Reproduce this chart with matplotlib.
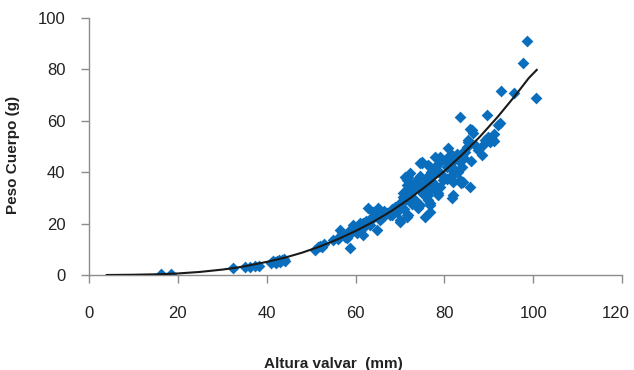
import matplotlib
matplotlib.use("Agg")
import matplotlib.pyplot as plt
import matplotlib.transforms as mtransforms

plt.rcParams['font.family'] = ['Liberation Sans', 'DejaVu Sans']

# Scatter data: Altura valvar (mm) vs Peso Cuerpo (g)
altura = [16.2, 18.5, 32.5, 35.2, 36.3, 37.3, 38.2,
          41.0, 41.5, 42.0, 42.4, 43.0, 43.5, 44.2, 42.8, 41.8, 44.0,
          50.8, 51.5, 52.0, 52.4, 52.8,
          55.0, 56.0, 56.5, 57.0, 57.7, 56.5, 58.0, 58.8, 58.5, 59.0, 59.5, 60.0, 60.3, 60.6,
          61.0, 61.2, 61.7, 61.7, 62.0, 62.3, 62.8, 63.2, 63.5, 64.0, 64.3, 64.8, 65.1, 65.5,
          65.8, 66.2, 66.5, 67.0, 67.8, 68.2, 68.9, 69.3, 70.0, 70.0, 70.5, 70.7, 71.0, 71.2,
          71.6, 71.8, 71.8, 72.0, 72.3, 72.3, 72.8, 73.0, 73.4, 73.5, 73.9, 74.1, 74.5, 74.5,
          75.0, 75.0, 75.2, 75.5, 75.7, 76.0, 76.1, 76.1, 76.4, 76.8, 76.8, 77.0, 77.3, 77.3,
          77.9, 78.0, 78.4, 78.6, 79.1, 79.1, 79.5, 79.7, 80.2, 80.5, 80.9, 81.3, 81.3, 81.8,
          82.0, 82.4, 82.8, 83.1, 83.6, 83.6, 83.8, 84.0, 84.5, 84.7, 85.1, 85.4, 85.8, 85.8,
          86.0, 86.5, 86.8, 87.5, 88.5, 88.7, 89.6, 89.9, 90.3, 90.8, 91.2, 92.6, 92.8, 95.7,
          97.8, 98.6, 100.7, 81.8, 76.4, 71.6,
          74.5, 76.4, 77.9, 71.8, 73.9, 76.6, 71.6, 73.0, 74.5, 76.8, 78.6, 70.7, 72.3, 76.8,
          74.5, 70.0, 68.9, 68.2, 71.6, 70.0, 65.5, 64.0, 61.0, 59.5, 57.7, 76.8, 92.1, 86.3,
          89.2, 91.2, 85.4, 84.2, 81.8, 79.0, 83.0, 78.4, 81.0, 77.7, 83.1, 84.2, 79.0, 77.0,
          80.5, 82.0, 82.5]
peso = [0.3, 0.4, 2.6, 3.0, 3.2, 3.4, 3.6,
        4.8, 5.6, 4.6, 5.3, 5.0, 5.8, 5.6, 6.0, 5.2, 6.2,
        9.9, 10.8, 11.2, 11.0, 12.0,
        13.6, 14.2, 15.0, 16.0, 15.6, 17.5, 14.5, 10.5, 17.0, 16.5, 19.5, 18.0, 16.5, 18.3,
        17.0, 19.5, 20.2, 15.6, 18.5, 21.0, 26.1, 19.5, 22.0, 22.2, 24.5, 17.5, 26.1, 21.4,
        23.5, 22.5, 25.0, 24.0, 23.3, 25.5, 26.5, 24.5, 21.4, 27.0, 28.0, 31.9, 25.5, 38.1,
        37.0, 23.3, 33.8, 30.0, 29.2, 39.7, 27.5, 33.0, 29.2, 36.0, 35.8, 26.1, 33.0, 38.5,
        43.6, 44.0, 31.5, 35.0, 22.6, 37.0, 33.8, 38.1, 31.1, 27.2, 42.0, 40.0, 36.2, 38.9,
        45.9, 35.0, 40.9, 31.1, 34.2, 44.0, 39.0, 37.0, 44.7, 42.0, 49.4, 38.1, 46.7, 44.0,
        31.1, 40.9, 47.0, 44.7, 37.0, 61.5, 35.8, 42.0, 45.5, 47.9, 49.8, 52.5, 56.8, 34.2,
        44.5, 55.3, 50.5, 48.5, 46.7, 50.6, 62.3, 53.7, 51.8, 52.9, 55.0, 59.1, 71.6, 70.8,
        82.5, 91.0, 68.9, 30.0, 29.2, 23.3,
        43.6, 42.8, 40.9, 38.1, 37.0, 38.0, 35.0, 33.8, 35.0, 33.0, 31.9, 30.4, 30.4, 28.0,
        27.2, 28.0, 26.0, 23.3, 22.6, 20.6, 23.3, 24.5, 20.2, 17.5, 14.8, 24.5, 58.4, 56.4,
        52.5, 52.0, 51.8, 47.9, 46.7, 45.9, 46.0, 42.8, 42.0, 41.5, 40.1, 36.2, 39.7, 38.5,
        37.5, 36.0, 39.5]

# Fitted trend line
fit_x = [4, 10, 16, 20, 25, 30, 33, 36, 40, 44, 48, 52, 56, 60, 64, 68, 72, 76,
         80, 84, 88, 92, 96, 99, 100.8]
fit_y = [0.0, 0.1, 0.3, 0.6, 1.2, 2.1, 2.8, 3.7, 5.1, 6.7, 8.7, 11.1, 13.9, 17.1,
         20.7, 24.8, 29.5, 34.7, 40.4, 46.8, 53.8, 61.5, 69.9, 76.6, 79.8]

x_ticks = [0, 20, 40, 60, 80, 100, 120]
y_ticks = [0, 20, 40, 60, 80, 100]

fig = plt.figure(figsize=(6.34, 3.70), dpi=100)
ax = fig.add_axes([89/634, 1-275/370, (622-89)/634, (275-18)/370])

ax.scatter(altura, peso, marker='D', s=36, color='#0a6ebd', linewidths=0, zorder=2)
ax.plot(fit_x, fit_y, color='#1a1a1a', lw=1.5, zorder=3)

ax.set_xlim(0, 120)
ax.set_ylim(0, 100)
ax.set_xticks(x_ticks)
ax.set_yticks(y_ticks)

for s in ['top', 'right']:
    ax.spines[s].set_visible(False)
for s in ['left', 'bottom']:
    ax.spines[s].set_color('#8c8c8c')
    ax.spines[s].set_linewidth(1.0)
ax.tick_params(axis='both', direction='out', length=6, width=1.0, color='#8c8c8c',
               labelsize=12, labelcolor='#222222')
ax.tick_params(axis='x', pad=16)
ax.tick_params(axis='y', pad=11)

# Shift last x tick label slightly left so it stays inside the figure
last = ax.get_xticklabels()[-1]
last.set_transform(last.get_transform() +
                   mtransforms.ScaledTranslation(-6/100, 0, fig.dpi_scale_trans))

ax.set_xlabel('Altura valvar  (mm)', fontsize=11, fontweight='bold', color='#222222')
ax.set_ylabel('Peso Cuerpo (g)', fontsize=11, fontweight='bold', color='#222222')
ax.xaxis.set_label_coords((333-89)/533, (275-357)/257)
ax.yaxis.set_label_coords((20-89)/533, (275-155)/257)

fig.savefig('out.png', dpi=100)
